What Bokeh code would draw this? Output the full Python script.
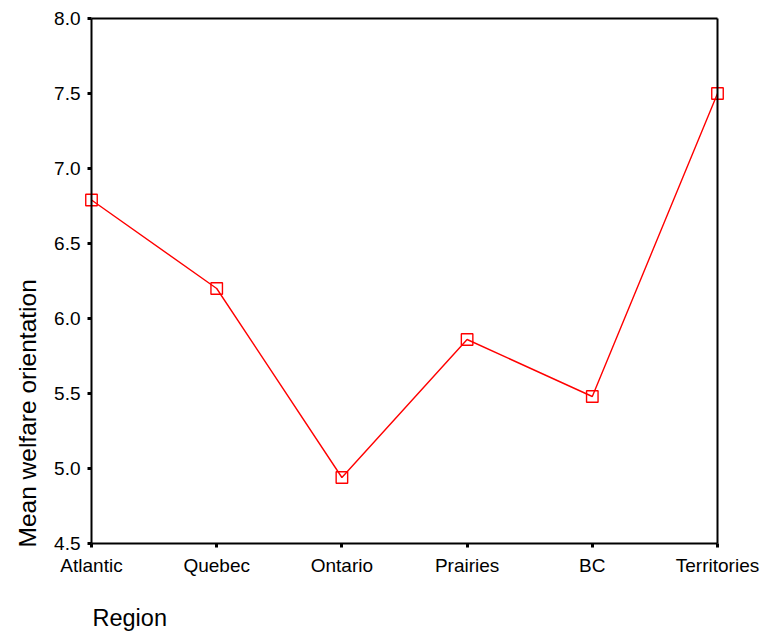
from bokeh.plotting import figure
from bokeh.models import Range1d, FixedTicker, NumeralTickFormatter, Title, LinearAxis
from bokeh.embed import file_html
from bokeh.resources import INLINE

regions = ["Atlantic", "Quebec", "Ontario", "Prairies", "BC", "Territories"]
mean_welfare = [6.79, 6.20, 4.94, 5.86, 5.48, 7.50]
y_ticks = [4.5, 5.0, 5.5, 6.0, 6.5, 7.0, 7.5, 8.0]
y_min, y_max = 4.5, 8.0

xs = list(range(len(regions)))
x_max = len(regions) - 1
FONT = "Liberation Sans"

# small padding (8px) around the axis box so end markers are not clipped
PAD = 8
AX_W, AX_H = 626, 525
px_x = AX_W / x_max
px_y = AX_H / (y_max - y_min)

p = figure(output_backend="svg", toolbar_location=None,
           frame_width=AX_W + 2 * PAD, frame_height=AX_H + 2 * PAD,
           min_border_left=83, min_border_top=10, min_border_right=37, min_border_bottom=85,
           x_range=Range1d(-PAD / px_x, x_max + PAD / px_x),
           y_range=Range1d(y_min - PAD / px_y, y_max + PAD / px_y),
           background_fill_color="white", border_fill_color="white")
p.outline_line_color = None
p.xgrid.visible = False
p.ygrid.visible = False

p.line(xs, mean_welfare, line_color="#ff0000", line_width=1.4)
p.scatter(xs, mean_welfare, marker="square", size=11.5, fill_color=None,
          line_color="#ff0000", line_width=1.4)

# default axes: tick labels only
p.xaxis.ticker = FixedTicker(ticks=xs)
p.xaxis.major_label_overrides = {i: r for i, r in enumerate(regions)}
p.xaxis.major_label_standoff = 3
p.yaxis.ticker = FixedTicker(ticks=y_ticks)
p.yaxis.formatter = NumeralTickFormatter(format="0.0")
p.yaxis.major_label_standoff = 3
for ax in (p.xaxis, p.yaxis):
    ax.axis_line_color = None
    ax.major_tick_line_color = None
    ax.minor_tick_line_color = None
    ax.major_tick_out = 0
    ax.major_tick_in = 0
    ax.major_label_text_font = FONT
    ax.major_label_text_font_size = "19px"
    ax.major_label_text_color = "black"


def box_axis(loc, bounds, ticks):
    return LinearAxis(fixed_location=loc, bounds=bounds, ticker=FixedTicker(ticks=ticks),
                      major_label_text_font_size="0px", major_label_text_color=None,
                      axis_line_width=2, axis_line_color="black",
                      major_tick_line_width=3, major_tick_line_color="black",
                      major_tick_in=4, major_tick_out=0, minor_tick_line_color=None)


# axis box lines with ticks (drawn at the data bounds)
p.add_layout(box_axis(y_min, (0, x_max), xs), "above")
p.add_layout(box_axis(0, (y_min, y_max), y_ticks), "right")
p.add_layout(box_axis(y_max, (0, x_max), []), "above")
p.add_layout(box_axis(x_max, (y_min, y_max), []), "right")

p.add_layout(Title(text="Mean welfare orientation", align="left", offset=4,
                   text_font=FONT, text_font_size="24.5px", text_font_style="normal",
                   text_color="black", standoff=21), "left")
p.add_layout(Title(text="Region", align="left", offset=9,
                   text_font=FONT, text_font_size="23.5px", text_font_style="normal",
                   text_color="black", standoff=49), "below")

open("out.html", "w").write(file_html(p, INLINE))
